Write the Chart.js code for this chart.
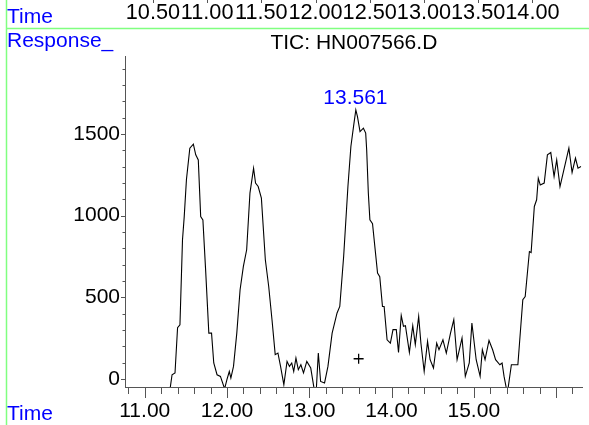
<!DOCTYPE html>
<html>
<head>
<meta charset="utf-8">
<script src="https://cdn.jsdelivr.net/npm/chart.js@4/dist/chart.umd.min.js"></script>
<style>
  html, body { margin: 0; padding: 0; background: #fff; }
  #wrap { width: 589px; height: 425px; position: relative; }
</style>
</head>
<body>
<div id="wrap"><canvas id="tic" width="589" height="425"></canvas></div>
<script>
// TIC trace (minutes / abundance)
const times = [
  11.308, 11.332, 11.368, 11.399, 11.428, 11.459, 11.480, 11.507, 11.548, 11.591,
  11.620, 11.651, 11.680, 11.707, 11.740, 11.779, 11.812, 11.839, 11.879, 11.920,
  11.971, 11.999, 12.028, 12.047, 12.079, 12.119, 12.159, 12.199, 12.239, 12.279,
  12.323, 12.347, 12.379, 12.418, 12.466, 12.507, 12.547, 12.586, 12.619, 12.651,
  12.691, 12.730, 12.759, 12.787, 12.811, 12.838, 12.867, 12.898, 12.930, 12.970,
  13.018, 13.059, 13.086, 13.110, 13.138, 13.186, 13.227, 13.278, 13.338, 13.371,
  13.418, 13.470, 13.506, 13.538, 13.566, 13.586, 13.617, 13.658, 13.686, 13.698,
  13.718, 13.737, 13.769, 13.830, 13.857, 13.890, 13.910, 13.946, 13.986, 14.018,
  14.058, 14.085, 14.118, 14.145, 14.169, 14.217, 14.258, 14.289, 14.330, 14.357,
  14.397, 14.438, 14.469, 14.510, 14.549, 14.577, 14.625, 14.666, 14.717, 14.757,
  14.797, 14.857, 14.897, 14.945, 14.977, 15.029, 15.077, 15.104, 15.137, 15.185,
  15.229, 15.265, 15.317, 15.344, 15.368, 15.397, 15.416, 15.457, 15.536, 15.556,
  15.596, 15.625, 15.676, 15.697, 15.736, 15.764, 15.784, 15.808, 15.856, 15.895,
  15.936, 15.976, 16.008, 16.048, 16.088, 16.156, 16.195, 16.236, 16.267, 16.303
];
const response = [
  -60, 26, 37, 314, 332, 852, 994, 1221, 1413, 1437,
  1372, 1341, 994, 974, 668, 281, 281, 98, 26, 16,
  -60, -4, 46, 6, 77, 281, 546, 689, 791, 1138,
  1290, 1199, 1178, 1107, 730, 566, 363, 149, 159, 77,
  -35, 108, 77, 98, 46, 128, 57, 87, 37, 108,
  67, -60, -60, 159, -15, -24, 77, 281, 404, 444,
  750, 1178, 1423, 1545, 1647, 1606, 1514, 1535, 1505, 1402,
  1138, 974, 950, 648, 626, 444, 444, 240, 220, 302,
  302, 163, 389, 322, 326, 163, 326, 210, 383, 220,
  46, 230, 118, 67, 220, 179, 240, 159, 281, 363,
  118, 251, 16, 98, 342, 118, 16, 179, 118, 236,
  179, 118, 87, 98, 16, -60, -60, 87, 87, 220,
  485, 505, 780, 774, 1056, 1097, 1229, 1188, 1199, 1372,
  1386, 1239, 1341, 1178, 1264, 1413, 1264, 1352, 1290, 1300
];

// the "+" marker under the big peak
const markerTime = [13.60];
const markerResponse = [124];

const peakTime = 13.561;

const xTickValues = [11, 12, 13, 14, 15];
const yTickValues = [0, 500, 1000, 1500];
const topTickValues = [10.5, 11, 11.5, 12, 12.5, 13, 13.5, 14];

const FONT = '"Liberation Sans", Arial, Helvetica, sans-serif';
const BLUE = '#0000ff';
const AXIS = '#555555';
Chart.defaults.font.family = FONT;
Chart.defaults.color = '#000';

// extra drawing: green frame lines, blue captions, tick marks, peak label
const chemDecor = {
  id: 'chemDecor',
  afterDraw(chart) {
    const ctx = chart.ctx;
    const xs = chart.scales.x, ys = chart.scales.y, ts = chart.scales.xTop;
    const area = chart.chartArea;
    ctx.save();

    ctx.strokeStyle = '#80ff80';
    ctx.lineWidth = 1.5;
    ctx.beginPath();
    ctx.moveTo(6.5, 28.5); ctx.lineTo(589, 28.5);
    ctx.moveTo(6.5, 0); ctx.lineTo(6.5, 425);
    ctx.stroke();

    ctx.fillStyle = BLUE;
    ctx.font = '21px ' + FONT;
    ctx.textAlign = 'left';
    ctx.textBaseline = 'middle';
    ctx.fillText('Time', 7, 17);
    ctx.fillText('Response_', 7, 41);
    ctx.fillText('Time', 7, 414);

    // peak label
    const peakMax = Math.max(...response);
    ctx.textAlign = 'center';
    ctx.fillText(peakTime.toFixed(3), xs.getPixelForValue(peakTime), ys.getPixelForValue(peakMax) - 12);

    // tick marks
    ctx.strokeStyle = AXIS;
    ctx.lineWidth = 1;
    ctx.beginPath();
    for (let i = Math.ceil(xs.min * 5); i <= Math.floor(xs.max * 5); i++) {
      const px = Math.round(xs.getPixelForValue(i / 5)) + 0.5;
      const len = i % 5 === 0 ? 11 : 7;
      ctx.moveTo(px, area.bottom); ctx.lineTo(px, area.bottom + len);
    }
    for (let i = Math.ceil(ys.min / 100); i <= Math.floor(ys.max / 100); i++) {
      const py = Math.round(ys.getPixelForValue(i * 100)) + 0.5;
      const len = i % 5 === 0 ? 4 : 2.5;
      ctx.moveTo(area.left, py); ctx.lineTo(area.left - len, py);
    }
    topTickValues.forEach(v => {
      const px = Math.round(ts.getPixelForValue(v)) + 0.5;
      ctx.moveTo(px, 0); ctx.lineTo(px, 3);
    });
    ctx.stroke();
    ctx.restore();
  }
};

const ctx = document.getElementById('tic').getContext('2d');
const chart = new Chart(ctx, {
  type: 'line',
  data: {
    datasets: [{
      data: times.map((t, i) => ({ x: t, y: response[i] })),
      borderColor: '#000',
      borderWidth: 1.1,
      pointRadius: 0,
      tension: 0,
      fill: false
    }, {
      data: markerTime.map((t, i) => ({ x: t, y: markerResponse[i] })),
      showLine: false,
      pointStyle: 'cross',
      pointRadius: 5,
      borderColor: '#000',
      borderWidth: 1.3
    }]
  },
  options: {
    responsive: false,
    animation: false,
    layout: { padding: 0 },
    plugins: {
      legend: { display: false },
      tooltip: { enabled: false },
      title: {
        display: true,
        text: 'TIC: HN007566.D',
        fullSize: false,
        color: '#000',
        font: { size: 21, weight: 'normal' },
        padding: { top: 2.7, bottom: 0.1 }
      }
    },
    scales: {
      x: {
        type: 'linear',
        position: 'bottom',
        min: 10.76,
        max: 16.324,
        grid: { display: false, drawTicks: false },
        border: { display: true, color: AXIS, width: 1 },
        afterBuildTicks: (s) => { s.ticks = xTickValues.map(v => ({ value: v })); },
        afterFit: (s) => { s.height = 38; },
        ticks: {
          padding: 11.4,
          autoSkip: false,
          maxRotation: 0,
          font: { size: 21 },
          color: '#000',
          callback: (v) => Number(v).toFixed(2)
        }
      },
      xTop: {
        type: 'linear',
        position: 'top',
        weight: 3000,
        min: 10.2425,
        max: 14.464,
        grid: { display: false, drawTicks: false },
        border: { display: false },
        afterBuildTicks: (s) => { s.ticks = topTickValues.map(v => ({ value: v })); },
        afterFit: (s) => { s.height = 28; },
        ticks: {
          padding: 2.3,
          autoSkip: false,
          maxRotation: 0,
          font: { size: 21.7 },
          color: '#000',
          callback: (v) => Number(v).toFixed(2)
        }
      },
      y: {
        type: 'linear',
        min: -49,
        max: 1977,
        grid: { display: false, drawTicks: false },
        border: { display: true, color: AXIS, width: 1 },
        afterBuildTicks: (s) => { s.ticks = yTickValues.map(v => ({ value: v })); },
        afterFit: (s) => { s.width = 125; },
        ticks: {
          padding: 5,
          font: { size: 21 },
          color: '#000',
          callback: (v) => String(v)
        }
      }
    }
  },
  plugins: [chemDecor]
});
</script>
</body>
</html>
